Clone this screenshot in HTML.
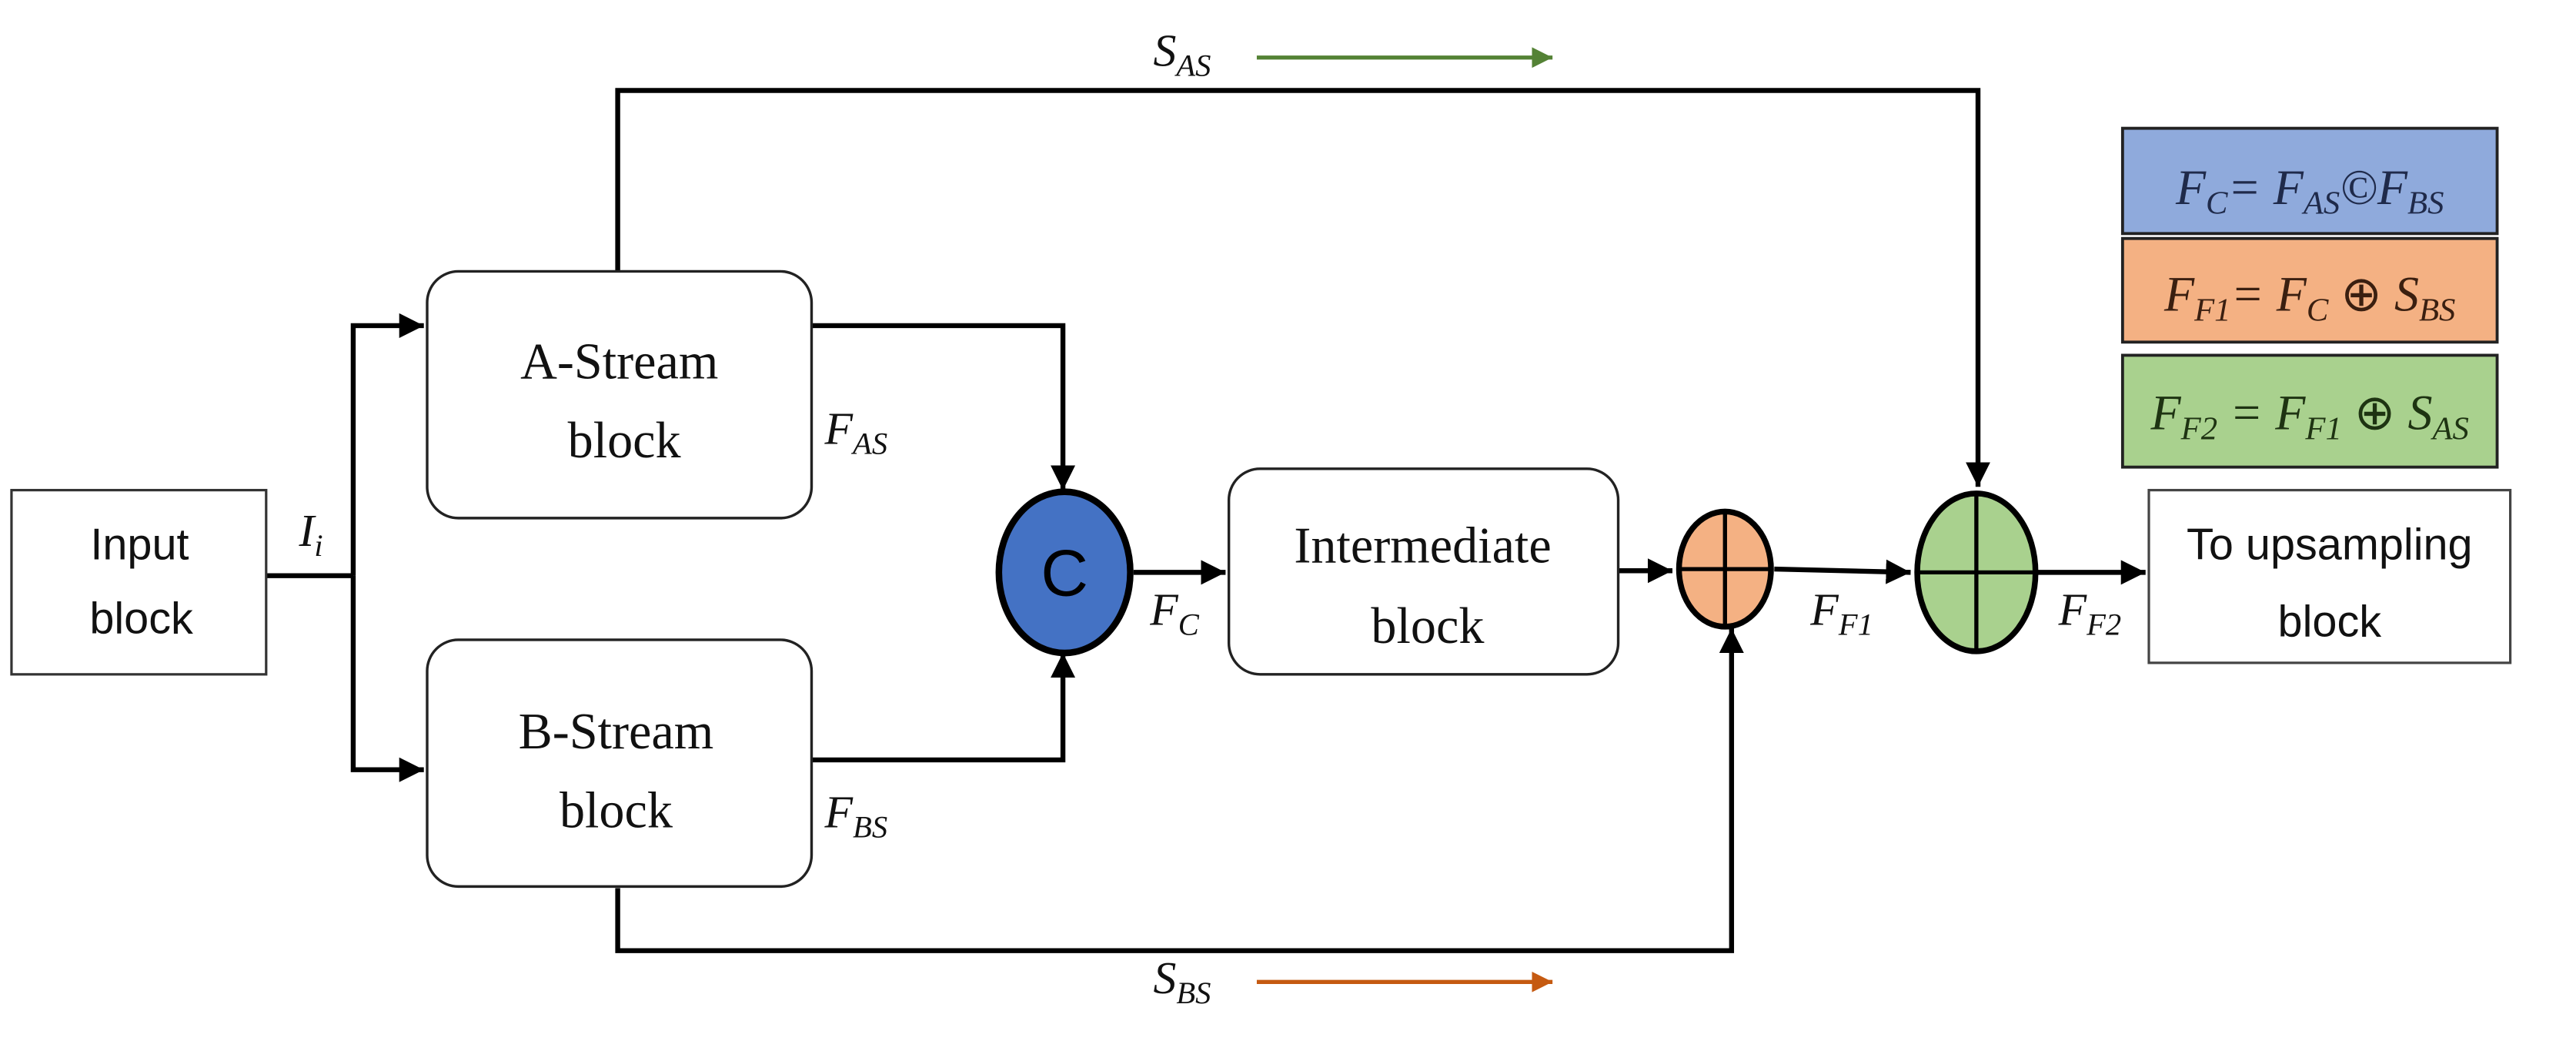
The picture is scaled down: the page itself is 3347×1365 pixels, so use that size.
<!DOCTYPE html>
<html><head><meta charset="utf-8"><style>
html,body{margin:0;padding:0;background:#fff;overflow:hidden;}
svg{display:block;}
.s{font-family:"Liberation Serif",serif;}
.a{font-family:"Liberation Sans",sans-serif;}
.m{font-family:"Liberation Serif",serif;font-style:italic;}
</style></head><body>
<svg width="3347" height="1365" viewBox="0 0 1568 639" preserveAspectRatio="none" xmlns="http://www.w3.org/2000/svg">
<defs>
<marker id="ah" markerWidth="6" markerHeight="6" refX="5" refY="3" orient="auto" markerUnits="strokeWidth"><path d="M0,0.5 L5,3 L0,5.5 z" fill="#000"/></marker>
<marker id="ag" markerWidth="6" markerHeight="6" refX="5" refY="3" orient="auto" markerUnits="strokeWidth"><path d="M0,0.5 L5,3 L0,5.5 z" fill="#548235"/></marker>
<marker id="ao" markerWidth="6" markerHeight="6" refX="5" refY="3" orient="auto" markerUnits="strokeWidth"><path d="M0,0.5 L5,3 L0,5.5 z" fill="#C55A11"/></marker>
</defs>
<g fill="none" stroke="#000" stroke-width="3">
<path d="M162,350 H215"/>
<path d="M215,350 V198 H258" marker-end="url(#ah)"/>
<path d="M215,350 V468 H258" marker-end="url(#ah)"/>
<path d="M494,198 H647 V298" marker-end="url(#ah)"/>
<path d="M494,462 H647 V397" marker-end="url(#ah)"/>
<path d="M690,348 H746" marker-end="url(#ah)"/>
<path d="M985,347 H1018" marker-end="url(#ah)"/>
<path d="M1080,346 L1163,348" marker-end="url(#ah)"/>
<path d="M1240,348 H1306" marker-end="url(#ah)"/>
<path d="M376,165 V55 H1204 V296" marker-end="url(#ah)"/>
<path d="M376,540 V578 H1054 V382" marker-end="url(#ah)"/>
</g>
<path d="M765,35 H945" stroke="#548235" stroke-width="2.5" fill="none" marker-end="url(#ag)"/>
<path d="M765,597 H945" stroke="#C55A11" stroke-width="2.5" fill="none" marker-end="url(#ao)"/>
<rect x="7" y="298" width="155" height="112" fill="#fff" stroke="#333" stroke-width="1.5"/>
<rect x="260" y="165" width="234" height="150" rx="19" fill="#fff" stroke="#222" stroke-width="1.6"/>
<rect x="260" y="389" width="234" height="150" rx="19" fill="#fff" stroke="#222" stroke-width="1.6"/>
<rect x="748" y="285" width="237" height="125" rx="19" fill="#fff" stroke="#222" stroke-width="1.6"/>
<rect x="1308" y="298" width="220" height="105" fill="#fff" stroke="#444" stroke-width="1.5"/>
<ellipse cx="648" cy="348" rx="40" ry="49" fill="#4472C4" stroke="#000" stroke-width="4"/>
<text x="648" y="362" text-anchor="middle" class="a" font-size="40" fill="#000">C</text>
<ellipse cx="1050" cy="346" rx="28" ry="35" fill="#F4B183" stroke="#000" stroke-width="3.5"/>
<path d="M1050,311 V381 M1022,346 H1078" stroke="#000" stroke-width="2.5"/>
<ellipse cx="1203" cy="348" rx="36" ry="48" fill="#A9D18E" stroke="#000" stroke-width="3.5"/>
<path d="M1203,300 V396 M1167,348 H1239" stroke="#000" stroke-width="2.5"/>
<rect x="1292" y="78" width="228" height="64" fill="#8FAADC" stroke="#222" stroke-width="1.8"/>
<rect x="1292" y="145" width="228" height="63" fill="#F4B183" stroke="#222" stroke-width="1.8"/>
<rect x="1292" y="216" width="228" height="68" fill="#A9D18E" stroke="#222" stroke-width="1.8"/>
<text x="1406" y="124" text-anchor="middle" class="m" font-size="30" fill="#1F2A4A">F<tspan font-size="20" dy="6">C</tspan><tspan dy="-6">= F</tspan><tspan font-size="20" dy="6">AS</tspan><tspan dy="-6">©F</tspan><tspan font-size="20" dy="6">BS</tspan></text>
<text x="1406" y="189" text-anchor="middle" class="m" font-size="30" fill="#3A1F10">F<tspan font-size="20" dy="6">F1</tspan><tspan dy="-6">= F</tspan><tspan font-size="20" dy="6">C</tspan><tspan dy="-6" font-style="normal"> ⊕ </tspan><tspan>S</tspan><tspan font-size="20" dy="6">BS</tspan></text>
<text x="1406" y="261" text-anchor="middle" class="m" font-size="30" fill="#1E3312">F<tspan font-size="20" dy="6">F2</tspan><tspan dy="-6"> = F</tspan><tspan font-size="20" dy="6">F1</tspan><tspan dy="-6" font-style="normal"> ⊕ </tspan><tspan>S</tspan><tspan font-size="20" dy="6">AS</tspan></text>
<text x="85" y="340" text-anchor="middle" class="a" font-size="27" fill="#111">Input</text>
<text x="86" y="385" text-anchor="middle" class="a" font-size="27" fill="#111">block</text>
<text x="377" y="230" text-anchor="middle" class="s" font-size="31" fill="#111">A-Stream</text>
<text x="380" y="278" text-anchor="middle" class="s" font-size="31" fill="#111">block</text>
<text x="375" y="455" text-anchor="middle" class="s" font-size="31" fill="#111">B-Stream</text>
<text x="375" y="503" text-anchor="middle" class="s" font-size="31" fill="#111">block</text>
<text x="866" y="342" text-anchor="middle" class="s" font-size="31" fill="#111">Intermediate</text>
<text x="869" y="391" text-anchor="middle" class="s" font-size="31" fill="#111">block</text>
<text x="1418" y="340" text-anchor="middle" class="a" font-size="27" fill="#111">To upsampling</text>
<text x="1418" y="387" text-anchor="middle" class="a" font-size="27" fill="#111">block</text>
<g class="m" font-size="28" fill="#111">
<text x="182" y="332">I<tspan font-size="19" dy="6">i</tspan></text>
<text x="502" y="270">F<tspan font-size="19" dy="6">AS</tspan></text>
<text x="502" y="503">F<tspan font-size="19" dy="6">BS</tspan></text>
<text x="700" y="380">F<tspan font-size="19" dy="6">C</tspan></text>
<text x="1102" y="380">F<tspan font-size="19" dy="6">F1</tspan></text>
<text x="1253" y="380">F<tspan font-size="19" dy="6">F2</tspan></text>
<text x="702" y="40">S<tspan font-size="19" dy="6">AS</tspan></text>
<text x="702" y="604">S<tspan font-size="19" dy="6">BS</tspan></text>
</g>
</svg>
</body></html>
